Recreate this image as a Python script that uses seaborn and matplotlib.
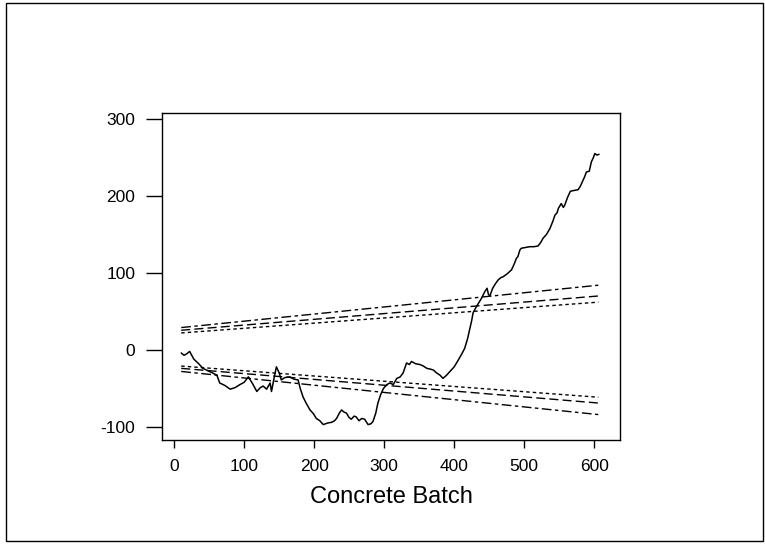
import numpy as np
import pandas as pd
import matplotlib
matplotlib.use("Agg")
import matplotlib.pyplot as plt
import seaborn as sns
from matplotlib.patches import Rectangle

# cusum curve
batch = [10, 14, 18, 22, 28, 35, 41, 48, 55, 61, 65, 72, 80, 87, 94, 100, 106, 112,
         118, 123, 127, 132, 137, 139, 143, 146, 150, 153, 158, 165, 171, 177, 180,
         184, 189, 194, 199, 203, 208, 213, 219, 225, 229, 232, 236, 239, 243, 246,
         250, 253, 257, 260, 264, 268, 272, 277, 281, 284, 288, 291, 295, 299, 304,
         308, 313, 318, 323, 327, 330, 332, 336, 339, 345, 351, 356, 361, 366, 370,
         375, 380, 384, 389, 394, 400, 406, 411, 415, 419, 422, 425, 427, 431, 435,
         439, 444, 447, 449, 451, 455, 459, 463, 467, 470, 476, 482, 486, 489, 491,
         494, 496, 502, 508, 514, 520, 524, 527, 532, 537, 541, 544, 547, 549, 553,
         556, 558, 562, 566, 571, 577, 580, 582, 586, 589, 593, 596, 599, 601, 604, 607]
cusum = [-4, -7, -5, -2, -12, -18, -24, -27, -30, -33, -43, -46, -51, -49, -45, -42, -35, -44,
         -54, -49, -47, -51, -43, -54, -35, -22, -30, -39, -36, -35, -38, -39, -50,
         -61, -70, -78, -83, -89, -92, -97, -95, -94, -92, -89, -82, -78, -81, -82,
         -88, -90, -86, -87, -92, -89, -90, -97, -96, -93, -82, -69, -58, -50, -45,
         -43, -45, -37, -35, -30, -22, -17, -19, -15, -18, -19, -21, -24, -25, -26,
         -30, -33, -37, -33, -28, -22, -13, -5, 2, 14, 26, 38, 48, 55, 61,
         67, 76, 80, 72, 70, 80, 86, 91, 94, 95, 99, 104, 112, 119, 121,
         130, 132, 133, 134, 134, 135, 140, 145, 150, 158, 167, 175, 178, 184, 190,
         185, 188, 198, 206, 207, 208, 212, 216, 224, 231, 232, 244, 250, 255, 253, 254]

# straight decision limits (start, end)
bound_x = [10, 606]
upper_outer = [29, 84]
upper_mid = [25.5, 70]
upper_inner = [22, 62]
lower_inner = [-21, -61.5]
lower_mid = [-24, -69]
lower_outer = [-28, -84]

x_ticks = [0, 100, 200, 300, 400, 500, 600]
y_ticks = [-100, 0, 100, 200, 300]

sns.set_theme(style="ticks")
plt.rcParams["font.family"] = ["Liberation Sans", "DejaVu Sans"]
plt.rcParams["axes.unicode_minus"] = False
plt.rcParams["text.color"] = "black"
plt.rcParams["axes.labelcolor"] = "black"
plt.rcParams["xtick.color"] = "black"
plt.rcParams["ytick.color"] = "black"

fig = plt.figure(figsize=(7.65, 5.44), dpi=100)
ax = fig.add_axes([0.2122, 0.1912, 0.5983, 0.6016])

df = pd.DataFrame({"batch": batch, "cusum": cusum})
sns.lineplot(data=df, x="batch", y="cusum", ax=ax, color="black", lw=1.1,
             estimator=None, sort=False)

twodash = (0, (7, 2.5, 2.5, 2.5))
longdash = (0, (6.5, 3))
shortdash = (0, (2.5, 2.2))
for vals, ls in [(upper_outer, twodash), (upper_mid, longdash), (upper_inner, shortdash),
                 (lower_inner, shortdash), (lower_mid, longdash), (lower_outer, twodash)]:
    sns.lineplot(x=bound_x, y=vals, ax=ax, color="black", lw=1.0, linestyle=ls)

ax.set_xlim(-17, 637)
ax.set_ylim(-117, 308)
ax.set_xticks(x_ticks)
ax.set_yticks(y_ticks)
ax.set_xlabel("Concrete Batch", fontsize=17, labelpad=8)
ax.set_ylabel("")
ax.tick_params(axis="x", length=6, width=1, colors="black", labelsize=12.5, pad=8)
ax.tick_params(axis="y", length=11.5, width=1, colors="black", labelsize=12.5, pad=8)
for s in ax.spines.values():
    s.set_color("black")
    s.set_linewidth(1)

# outer frame of the figure
fig.patches.append(Rectangle((0.0078, 0.0055), 0.9896, 0.989, transform=fig.transFigure,
                             fill=False, edgecolor="black", lw=1))

fig.savefig("out.png", dpi=100)
